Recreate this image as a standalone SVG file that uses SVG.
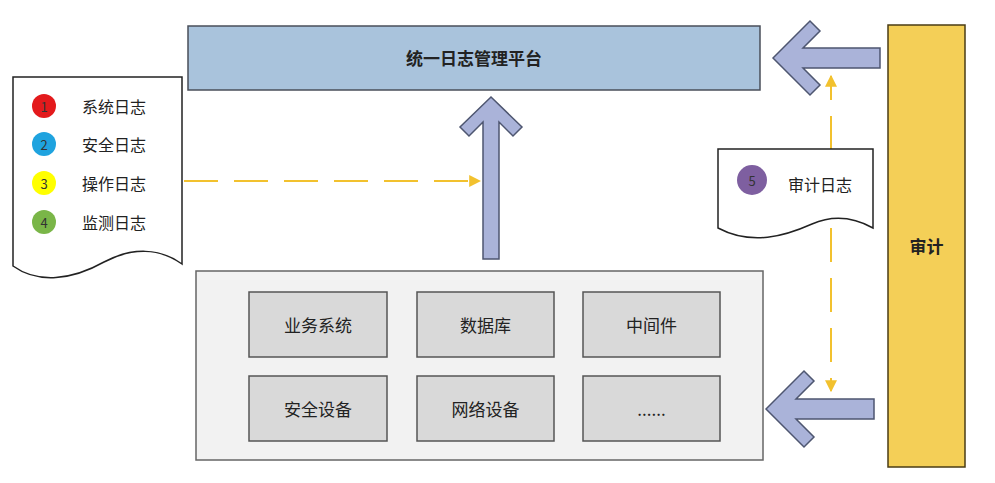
<svg xmlns="http://www.w3.org/2000/svg" width="995" height="483" viewBox="0 0 995 483">
<defs>
<style>
text{font-family:"Noto Sans CJK SC","Liberation Sans",sans-serif;fill:#222;}
.t{font-size:17px;text-anchor:middle;dominant-baseline:central;}
.b{font-weight:bold;}
.box{fill:#d9d9d9;stroke:#555;stroke-width:1.5;}
.arr{fill:#aab3d9;stroke:#4e5670;stroke-width:1.5;stroke-linejoin:miter;}
.dash{stroke:#f2c12e;stroke-width:2;stroke-dasharray:34 16;fill:none;}
.doc{fill:#fff;stroke:#222;stroke-width:1.5;}
.num{font-size:13px;text-anchor:middle;dominant-baseline:central;fill:#333;}
.lbl{font-size:16px;dominant-baseline:central;}
</style>
<marker id="ah" viewBox="0 0 10 10" refX="9" refY="5" markerWidth="6" markerHeight="6" orient="auto">
<path d="M0,0 L10,5 L0,10 Z" fill="#f2c12e"/>
</marker>
</defs>

<g id="connectors">
<line class="dash" x1="184" y1="181" x2="480" y2="181" marker-end="url(#ah)"/>
<line class="dash" x1="831" y1="150" x2="831" y2="76" stroke-dasharray="36 18" marker-end="url(#ah)"/>
<line class="dash" x1="831" y1="228" x2="831" y2="391" stroke-dasharray="40 14" marker-end="url(#ah)"/>
<polygon id="arrow-up" class="arr" points="491,97 522,127 513,136 499,122 499,259 483,259 483,122 469,136 460,127"/>
<polygon id="arrow-top-left" class="arr" points="773,58 810,21 820,31 803,48 880,48 880,68 803,68 820,85 810,95"/>
<polygon id="arrow-bottom-left" class="arr" points="766,409 804,371 814,381 796,399 874,399 874,419 796,419 814,437 804,447"/>
</g>

<g id="platform">
<rect x="188" y="26" width="572" height="64" fill="#a9c3dc" stroke="#4a4f5a" stroke-width="1.5"/>
<text class="t b" x="474" y="57" font-size="18">统一日志管理平台</text>
</g>

<g id="log-types">
<path class="doc" d="M13,77 H182 V264 C160,248 132,247 104,262 C72,280 38,284 13,266 Z"/>
<circle cx="44" cy="106" r="12" fill="#e31a1c"/>
<text class="num" x="44" y="106">1</text>
<circle cx="44" cy="144" r="12" fill="#1fa3df"/>
<text class="num" x="44" y="144">2</text>
<circle cx="44" cy="183" r="12" fill="#ffff00"/>
<text class="num" x="44" y="183">3</text>
<circle cx="44" cy="222" r="12" fill="#7ab648"/>
<text class="num" x="44" y="222">4</text>
<text class="lbl" x="82" y="106">系统日志</text>
<text class="lbl" x="82" y="144">安全日志</text>
<text class="lbl" x="82" y="183">操作日志</text>
<text class="lbl" x="82" y="222">监测日志</text>
</g>

<g id="sources">
<rect x="196" y="271" width="567" height="189" fill="#f2f2f2" stroke="#666" stroke-width="1.5"/>
<g id="biz"><rect class="box" x="249" y="292" width="138" height="65"/><text class="t" x="318" y="324.5">业务系统</text></g>
<g id="db"><rect class="box" x="417" y="292" width="137" height="65"/><text class="t" x="485.5" y="324.5">数据库</text></g>
<g id="mw"><rect class="box" x="583" y="292" width="137" height="65"/><text class="t" x="651.5" y="324.5">中间件</text></g>
<g id="sec"><rect class="box" x="249" y="376" width="138" height="65"/><text class="t" x="318" y="408.5">安全设备</text></g>
<g id="net"><rect class="box" x="417" y="376" width="137" height="65"/><text class="t" x="485.5" y="408.5">网络设备</text></g>
<g id="more"><rect class="box" x="583" y="376" width="137" height="65"/><text class="t" x="651.5" y="408.5" font-size="14">......</text></g>
</g>

<g id="audit-log">
<path class="doc" d="M718,149 H873 V228 C855,218 835,214 812,224 C785,236 752,246 718,228 Z"/>
<circle cx="752" cy="180" r="15" fill="#7e5fa0"/>
<text class="num" x="752" y="180" font-size="14">5</text>
<text class="lbl" x="788" y="184">审计日志</text>
</g>

<g id="audit">
<rect x="888" y="25" width="77" height="442" fill="#f4cf57" stroke="#4a3c14" stroke-width="1.5"/>
<text class="t b" x="926.5" y="245" font-size="17">审计</text>
</g>
</svg>
